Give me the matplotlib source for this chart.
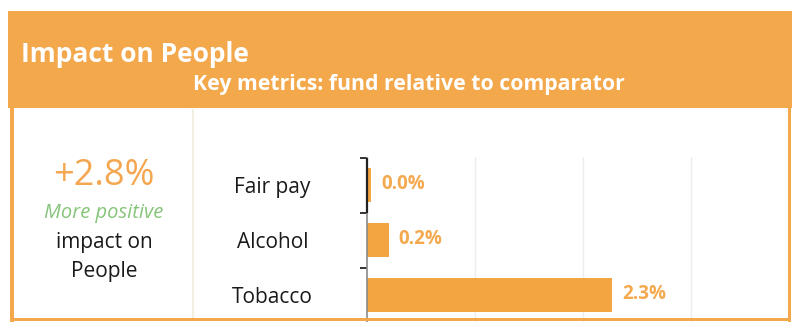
import matplotlib
matplotlib.use("Agg")
import matplotlib.pyplot as plt
from matplotlib.patches import Rectangle
from matplotlib.lines import Line2D

plt.rcParams['font.family'] = ['Open Sans', 'DejaVu Sans']

# ---- data ----
categories = ["Fair pay", "Alcohol", "Tobacco"]
values = [0.04, 0.2, 2.27]
value_labels = ["0.0%", "0.2%", "2.3%"]
headline = "+2.8%"
title = "Impact on People"
subtitle = "Key metrics: fund relative to comparator"

W, H = 800, 322
ORANGE = "#F4A84C"
BAR = "#F2A540"
GREEN = "#86C47A"

fig = plt.figure(figsize=(W / 100, H / 100), dpi=100)
fig.patch.set_facecolor("white")

def fx(x):
    return x / W

def fy(y):
    return 1 - y / H

# axes
ax_l, ax_t, ax_r, ax_b = 367, 157.5, 789, 322.5
ax = fig.add_axes([fx(ax_l), fy(ax_b), fx(ax_r - ax_l), (ax_b - ax_t) / H])
ax.set_facecolor("none")
n = len(categories)
pos = list(range(n))
ax.barh(pos, values, height=0.63, color=BAR, zorder=2)
ax.set_ylim(n - 0.5, -0.5)
ax.set_xlim(0, (ax_r - ax_l) / 108.0)
ax.set_xticks([1, 2, 3])
ax.xaxis.grid(True, color="#EDEDED", linewidth=1)
ax.tick_params(axis="x", length=0, labelbottom=False)
for s in ["top", "right", "bottom"]:
    ax.spines[s].set_visible(False)
ax.spines["left"].set_color("#8A8A8A")
ax.spines["left"].set_linewidth(1.2)
ax.vlines(0, -0.5, 0.5, color="#222222", linewidth=1.6, zorder=5, clip_on=False)
ax.set_yticks([p - 0.5 for p in pos])
ax.tick_params(axis="y", which="major", length=5, width=1.4, color="#333333", labelleft=False)
ax.set_yticks(pos, minor=True)
ax.set_yticklabels(categories, minor=True, fontsize=15, color="#1A1A1A")
ax.tick_params(axis="y", which="minor", length=0, pad=68)
for lab in ax.get_yticklabels(minor=True):
    lab.set_ha("center")
ax.set_axisbelow(True)
for p, v, t in zip(pos, values, value_labels):
    ax.annotate(t, (v, p), xytext=(7, 1), textcoords="offset points",
                va="center", ha="left", fontsize=13.5, fontweight="bold", color="#F4A94E")

# frame & header
fig.add_artist(Rectangle((fx(8), fy(108)), fx(784), 97 / H, transform=fig.transFigure,
                         facecolor=ORANGE, edgecolor="none", zorder=3))
fig.add_artist(Rectangle((fx(10), fy(322)), fx(4), 214 / H, transform=fig.transFigure,
                         facecolor=ORANGE, edgecolor="none", zorder=3))
fig.add_artist(Rectangle((fx(788), fy(322)), fx(3), 214 / H, transform=fig.transFigure,
                         facecolor=ORANGE, edgecolor="none", zorder=3))
fig.add_artist(Rectangle((fx(10), fy(321)), fx(781), 3 / H, transform=fig.transFigure,
                         facecolor=ORANGE, edgecolor="none", zorder=3))
fig.add_artist(Line2D([fx(193), fx(193)], [fy(110), fy(318)], transform=fig.transFigure,
                      color="#F3EFE0", linewidth=1.5, zorder=1))

fig.text(fx(21), fy(62), title, fontsize=19, fontweight="bold", color="white",
         va="baseline", ha="left", zorder=4)
fig.text(fx(193), fy(90), subtitle, fontsize=15.3, fontweight="bold", color="white",
         va="baseline", ha="left", zorder=4)

fig.text(fx(104), fy(185), headline, fontsize=26, color="#F4A750", ha="center", va="baseline")
fig.text(fx(104), fy(218), "More positive", fontsize=14.5, style="italic", color=GREEN,
         ha="center", va="baseline")
fig.text(fx(104), fy(248), "impact on", fontsize=15, color="#1A1A1A", ha="center", va="baseline")
fig.text(fx(104), fy(277), "People", fontsize=15, color="#1A1A1A", ha="center", va="baseline")

fig.savefig("out.png", dpi=100, facecolor="white")
